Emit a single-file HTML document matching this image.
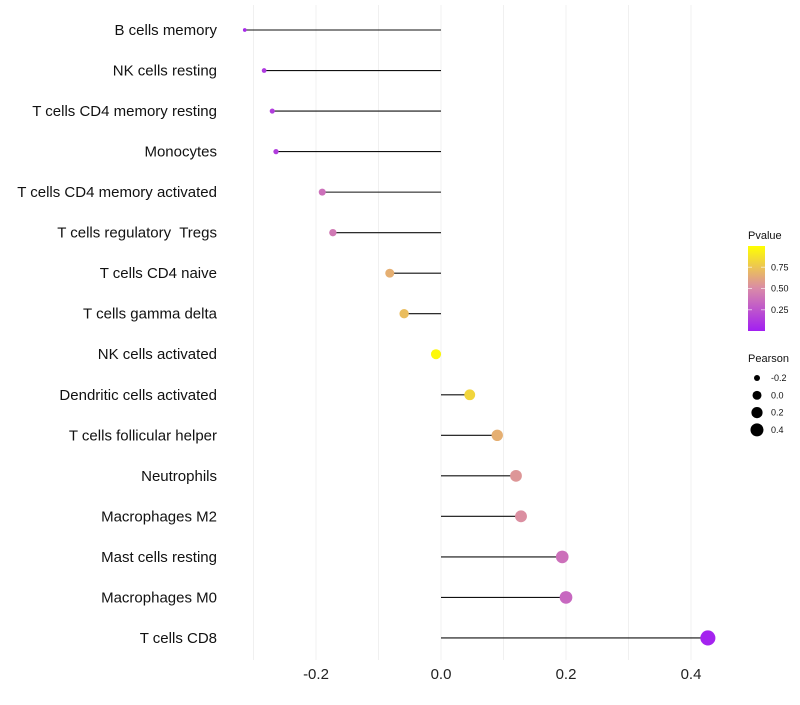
<!DOCTYPE html>
<html><head><meta charset="utf-8"><style>
body{margin:0;background:#fff;font-family:"Liberation Sans",sans-serif}
text{white-space:pre}
</style></head><body>
<svg id="chart" width="800" height="700" xmlns="http://www.w3.org/2000/svg" font-family="Liberation Sans, sans-serif"></svg>
<script>
const categories=["B cells memory","NK cells resting","T cells CD4 memory resting","Monocytes","T cells CD4 memory activated","T cells regulatory  Tregs","T cells CD4 naive","T cells gamma delta","NK cells activated","Dendritic cells activated","T cells follicular helper","Neutrophils","Macrophages M2","Mast cells resting","Macrophages M0","T cells CD8"];
const pearson=[-0.314,-0.283,-0.270,-0.264,-0.190,-0.173,-0.082,-0.059,-0.008,0.046,0.090,0.120,0.128,0.194,0.200,0.427];
const pvalue=[0.05,0.12,0.14,0.14,0.38,0.42,0.66,0.72,0.97,0.82,0.66,0.55,0.52,0.38,0.34,0.02];
const xTicks=[-0.2,0.0,0.2,0.4];
const xTickLabels=["-0.2","0.0","0.2","0.4"];
const gridVals=[-0.3,-0.2,-0.1,0,0.1,0.2,0.3,0.4];
const pTicks=[0.25,0.5,0.75];
const pTickLabels=["0.25","0.50","0.75"];
const sizeTicks=[-0.2,0,0.2,0.4];
const sizeTickLabels=["-0.2","0.0","0.2","0.4"];

const svg=document.getElementById('chart');
const NS="http://www.w3.org/2000/svg";
const x=v=>441+625*v;
const y=i=>30+i*40.53;
const r=v=>Math.sqrt(Math.max(1.8,26+72*v));
function col(p){
  const s=[[0,[162,31,242]],[0.5,[217,138,168]],[1,[255,255,0]]];
  let a=s[0],b=s[1]; if(p>0.5){a=s[1];b=s[2];}
  const t=Math.min(1,Math.max(0,(p-a[0])/(b[0]-a[0])));
  const c=a[1].map((v,k)=>Math.round(v+(b[1][k]-v)*t));
  return `rgb(${c[0]},${c[1]},${c[2]})`;
}
function mk(tag,attrs,parent){const e=document.createElementNS(NS,tag);for(const k in attrs)e.setAttribute(k,attrs[k]);(parent||svg).appendChild(e);return e;}
gridVals.forEach(g=>{
  const l=mk('line',{x1:x(g),x2:x(g),y1:5,y2:660,stroke:'#f0f0f0','stroke-width':1});
  
  
});
xTicks.forEach((t,i)=>{
  const e=mk('text',{x:x(t),y:679,'text-anchor':'middle','font-size':15,fill:'#222'});
  e.textContent=xTickLabels[i];
  
  
});
categories.forEach((c,i)=>{
  const t=mk('text',{x:217,y:y(i)+5,'text-anchor':'end','font-size':15,fill:'#111'});
  t.textContent=c;
  
  
  const l=mk('line',{x1:x(0),x2:x(pearson[i]),y1:y(i),y2:y(i),stroke:'#111','stroke-width':1.1});
  
  
  const d=mk('circle',{cx:x(pearson[i]),cy:y(i),r:r(pearson[i]),fill:col(pvalue[i])});
  
  
});
const defs=mk('defs',{});
const grad=mk('linearGradient',{id:'pg',x1:0,y1:1,x2:0,y2:0},defs);
for(let k=0;k<=10;k++){mk('stop',{offset:k/10,'stop-color':col(k/10)},grad);}
const lt=mk('text',{x:748,y:239,'font-size':11,fill:'#111'});lt.textContent='Pvalue';


const bar=mk('rect',{x:748,y:246,width:17,height:85,fill:'url(#pg)'});


const py=p=>331-85*p;
pTicks.forEach((p,i)=>{
  mk('line',{x1:748,x2:752,y1:py(p),y2:py(p),stroke:'#fff','stroke-opacity':0.6});
  mk('line',{x1:761,x2:765,y1:py(p),y2:py(p),stroke:'#fff','stroke-opacity':0.6});
  const t=mk('text',{x:771,y:py(p)+3,'font-size':9,fill:'#111'});t.textContent=pTickLabels[i];
  
  
});
const st=mk('text',{x:748,y:362,'font-size':11,fill:'#111'});st.textContent='Pearson';


sizeTicks.forEach((s,i)=>{
  const cy=378+i*17.3;
  const c=mk('circle',{cx:757,cy:cy,r:r(s)*0.88,fill:'#000'});
  
  
  const t=mk('text',{x:771,y:cy+3,'font-size':9,fill:'#111'});t.textContent=sizeTickLabels[i];
  
  
});
</script>
</body></html>
